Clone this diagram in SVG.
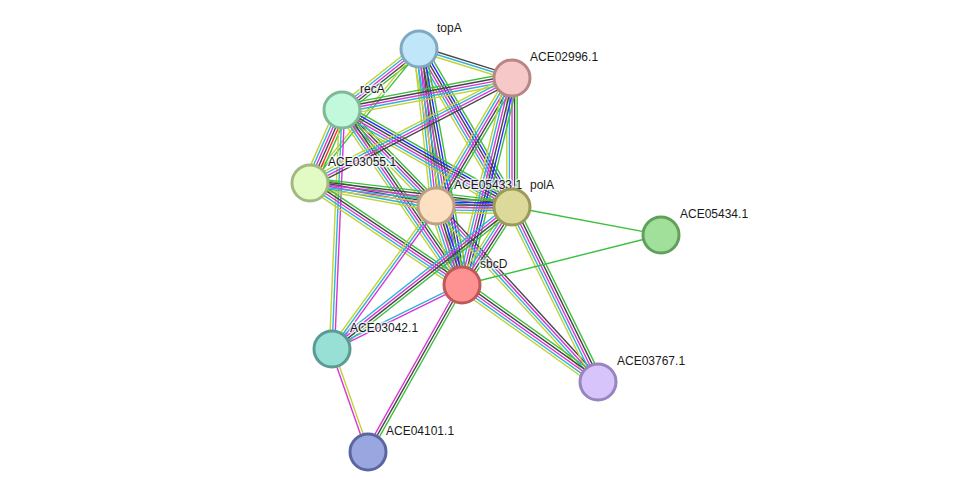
<svg xmlns="http://www.w3.org/2000/svg" xmlns:xlink="http://www.w3.org/1999/xlink" width="976" height="498" viewBox="0 0 976 498">
<style>
.e line{stroke-width:1.4;vector-effect:non-scaling-stroke;fill:none}
.g{stroke:#3dbf3d}.r{stroke:#ff2a2a}.b{stroke:#2a2aff}.k{stroke:#454545}.m{stroke:#d934d9}.c{stroke:#2fb3d6}.y{stroke:#c3d236}
.n circle{stroke-width:3}
text{font-family:"Liberation Sans",Arial,sans-serif;font-size:12px;fill:#1a1a1a;stroke:#fff;stroke-width:3;stroke-opacity:0.7;paint-order:stroke;stroke-linejoin:round}
</style>
<defs>
<g id="b_gkmcy" class="e"><line class="g" x2="1" y1="-5.2" y2="-5.2"/><line class="k" x2="1" y1="-2.6" y2="-2.6"/><line class="m" x2="1" y1="0" y2="0"/><line class="c" x2="1" y1="2.6" y2="2.6"/><line class="y" x2="1" y1="5.2" y2="5.2"/></g>
<g id="b_gbkmcy" class="e"><line class="g" x2="1" y1="-6.5" y2="-6.5"/><line class="b" x2="1" y1="-3.9" y2="-3.9"/><line class="k" x2="1" y1="-1.3" y2="-1.3"/><line class="m" x2="1" y1="1.3" y2="1.3"/><line class="c" x2="1" y1="3.9" y2="3.9"/><line class="y" x2="1" y1="6.5" y2="6.5"/></g>
<g id="b_grkmcy" class="e"><line class="g" x2="1" y1="-6.5" y2="-6.5"/><line class="r" x2="1" y1="-3.9" y2="-3.9"/><line class="k" x2="1" y1="-1.3" y2="-1.3"/><line class="m" x2="1" y1="1.3" y2="1.3"/><line class="c" x2="1" y1="3.9" y2="3.9"/><line class="y" x2="1" y1="6.5" y2="6.5"/></g>
<g id="b_kcy" class="e"><line class="k" x2="1" y1="-2.6" y2="-2.6"/><line class="c" x2="1" y1="0" y2="0"/><line class="y" x2="1" y1="2.6" y2="2.6"/></g>
<g id="b_gy" class="e"><line class="g" x2="1" y1="-1.3" y2="-1.3"/><line class="y" x2="1" y1="1.3" y2="1.3"/></g>
<g id="b_mcy" class="e"><line class="m" x2="1" y1="-2.6" y2="-2.6"/><line class="c" x2="1" y1="0" y2="0"/><line class="y" x2="1" y1="2.6" y2="2.6"/></g>
<g id="b_kmcy" class="e"><line class="k" x2="1" y1="-3.9" y2="-3.9"/><line class="m" x2="1" y1="-1.3" y2="-1.3"/><line class="c" x2="1" y1="1.3" y2="1.3"/><line class="y" x2="1" y1="3.9" y2="3.9"/></g>
<g id="b_gkmc" class="e"><line class="g" x2="1" y1="-3.9" y2="-3.9"/><line class="k" x2="1" y1="-1.3" y2="-1.3"/><line class="m" x2="1" y1="1.3" y2="1.3"/><line class="c" x2="1" y1="3.9" y2="3.9"/></g>
<g id="b_mc" class="e"><line class="m" x2="1" y1="-1.3" y2="-1.3"/><line class="c" x2="1" y1="1.3" y2="1.3"/></g>
<g id="b_gkm" class="e"><line class="g" x2="1" y1="-2.6" y2="-2.6"/><line class="k" x2="1" y1="0" y2="0"/><line class="m" x2="1" y1="2.6" y2="2.6"/></g>
<g id="b_ym" class="e"><line class="y" x2="1" y1="-1.3" y2="-1.3"/><line class="m" x2="1" y1="1.3" y2="1.3"/></g>
<g id="b_g" class="e"><line class="g" x2="1" y1="0" y2="0"/></g>
</defs>
<rect width="976" height="498" fill="#fff"/>
<g id="connectors">
<use xlink:href="#b_kcy" transform="translate(419,49) rotate(17.3) scale(97.4,1)"/>
<use xlink:href="#b_gkmcy" transform="translate(419,49) rotate(141.6) scale(98.2,1)"/>
<use xlink:href="#b_gy" transform="translate(419,49) rotate(129.1) scale(172.7,1)"/>
<use xlink:href="#b_gkmcy" transform="translate(419,49) rotate(83.8) scale(157.9,1)"/>
<use xlink:href="#b_gbkmcy" transform="translate(419,49) rotate(59.5) scale(183.3,1)"/>
<use xlink:href="#b_gbkmcy" transform="translate(419,49) rotate(79.7) scale(239.9,1)"/>
<use xlink:href="#b_gkmcy" transform="translate(342,110) rotate(-10.66) scale(173,1)"/>
<use xlink:href="#b_grkmcy" transform="translate(342,110) rotate(113.7) scale(79.7,1)"/>
<use xlink:href="#b_gkmcy" transform="translate(342,110) rotate(45.6) scale(134.4,1)"/>
<use xlink:href="#b_gbkmcy" transform="translate(342,110) rotate(29.7) scale(195.7,1)"/>
<use xlink:href="#b_gkmcy" transform="translate(342,110) rotate(55.6) scale(212.2,1)"/>
<use xlink:href="#b_mcy" transform="translate(342,110) rotate(92.4) scale(239.2,1)"/>
<use xlink:href="#b_kmcy" transform="translate(512,78) rotate(152.5) scale(227.7,1)"/>
<use xlink:href="#b_gkmcy" transform="translate(512,78) rotate(120.7) scale(148.9,1)"/>
<use xlink:href="#b_gkmcy" transform="translate(512,78) rotate(90) scale(129,1)"/>
<use xlink:href="#b_gbkmcy" transform="translate(512,78) rotate(103.6) scale(213,1)"/>
<use xlink:href="#b_gkmcy" transform="translate(310,183) rotate(10.3) scale(128.1,1)"/>
<use xlink:href="#b_gkmcy" transform="translate(310,183) rotate(6.8) scale(203.4,1)"/>
<use xlink:href="#b_gkmcy" transform="translate(310,183) rotate(33.9) scale(183.1,1)"/>
<use xlink:href="#b_gbkmcy" transform="translate(436,206) rotate(0.75) scale(76,1)"/>
<use xlink:href="#b_gbkmcy" transform="translate(436,206) rotate(71.8) scale(83.2,1)"/>
<use xlink:href="#b_mcy" transform="translate(436,206) rotate(126) scale(176.8,1)"/>
<use xlink:href="#b_kmcy" transform="translate(436,206) rotate(47.4) scale(239.2,1)"/>
<use xlink:href="#b_gkmcy" transform="translate(512,207) rotate(122.7) scale(92.6,1)"/>
<use xlink:href="#b_g" transform="translate(512,207) rotate(10.6) scale(151.6,1)"/>
<use xlink:href="#b_gkmcy" transform="translate(512,207) rotate(63.8) scale(195,1)"/>
<use xlink:href="#b_gkmc" transform="translate(512,207) rotate(141.7) scale(229.3,1)"/>
<use xlink:href="#b_g" transform="translate(462,285) rotate(-14.1) scale(205.2,1)"/>
<use xlink:href="#b_mc" transform="translate(462,285) rotate(153.8) scale(144.9,1)"/>
<use xlink:href="#b_gkmcy" transform="translate(462,285) rotate(35.5) scale(167,1)"/>
<use xlink:href="#b_gkm" transform="translate(462,285) rotate(119.4) scale(191.6,1)"/>
<use xlink:href="#b_ym" transform="translate(332,349) rotate(70.7) scale(109.1,1)"/>
</g>
<g id="topA" class="n"><circle cx="419" cy="49" r="18" fill="#c0e6fa" stroke="#80a8c0"/><text x="437" y="32">topA</text></g>
<g id="ACE02996.1" class="n"><circle cx="512" cy="78" r="18" fill="#f6c8c8" stroke="#b88686"/><text x="530" y="61">ACE02996.1</text></g>
<g id="recA" class="n"><circle cx="342" cy="110" r="18" fill="#c2f8dc" stroke="#80b898"/><text x="360" y="93">recA</text></g>
<g id="ACE03055.1" class="n"><circle cx="310" cy="183" r="18" fill="#e2fac4" stroke="#a0ba80"/><text x="328" y="166">ACE03055.1</text></g>
<g id="ACE05433.1" class="n"><circle cx="436" cy="206" r="18" fill="#fde0c2" stroke="#bca083"/><text x="454" y="189">ACE05433.1</text></g>
<g id="polA" class="n"><circle cx="512" cy="207" r="18" fill="#dcd99a" stroke="#9c9a58"/><text x="530" y="189">polA</text></g>
<g id="ACE05434.1" class="n"><circle cx="661" cy="235" r="18" fill="#a0e09a" stroke="#60a05a"/><text x="680" y="218">ACE05434.1</text></g>
<g id="sbcD" class="n"><circle cx="462" cy="285" r="18" fill="#fe9292" stroke="#c05858"/><text x="480" y="268">sbcD</text></g>
<g id="ACE03042.1" class="n"><circle cx="332" cy="349" r="18" fill="#98e0d6" stroke="#5a9c94"/><text x="350" y="332">ACE03042.1</text></g>
<g id="ACE03767.1" class="n"><circle cx="598" cy="382" r="18" fill="#d6c4fa" stroke="#9884c0"/><text x="617" y="365">ACE03767.1</text></g>
<g id="ACE04101.1" class="n"><circle cx="368" cy="452" r="18" fill="#9aa6e0" stroke="#5a66a0"/><text x="386" y="435">ACE04101.1</text></g>
</svg>
